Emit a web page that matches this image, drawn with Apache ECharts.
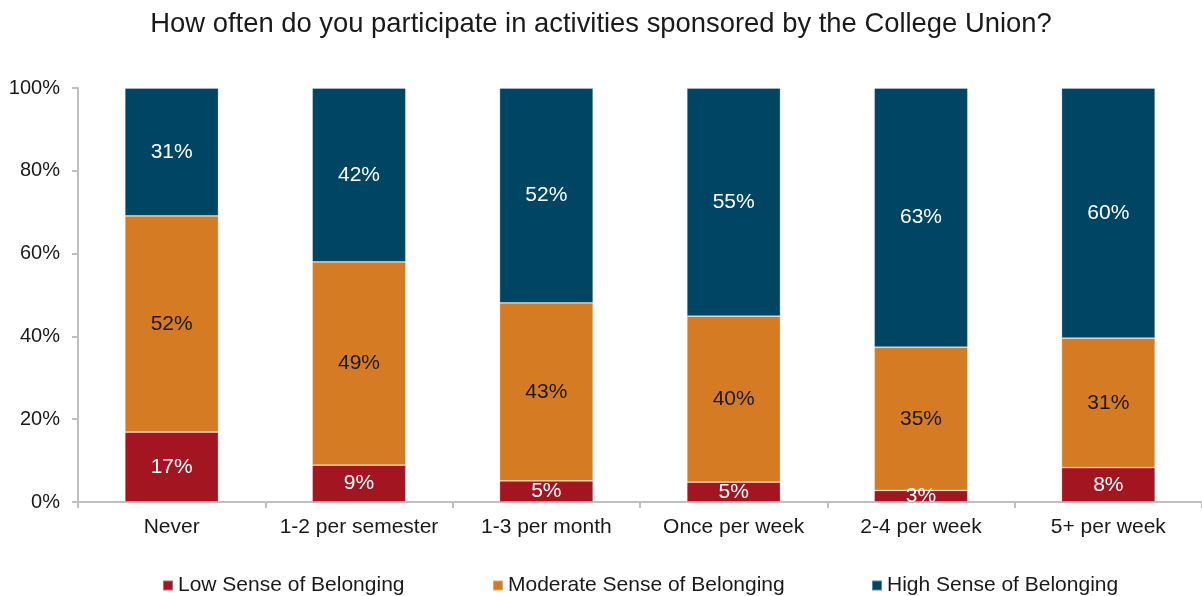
<!DOCTYPE html>
<html>
<head>
<meta charset="utf-8">
<script src="https://cdn.jsdelivr.net/npm/echarts@6/dist/echarts.min.js"></script>
<style>
html,body{margin:0;padding:0;background:#fff;}
#chart{width:1202px;height:596px;}
</style>
</head>
<body>
<div id="chart"></div>
<script>
var titleText = 'How often do you participate in activities sponsored by the College Union?';
var categories = ['Never', '1-2 per semester', '1-3 per month', 'Once per week', '2-4 per week', '5+ per week'];
var seriesNames = ['Low Sense of Belonging', 'Moderate Sense of Belonging', 'High Sense of Belonging'];
var lowValues = [16.9, 8.9, 5.1, 4.8, 2.8, 8.3];
var moderateValues = [52.2, 49.1, 43.0, 40.1, 34.6, 31.3];
var highValues = [30.9, 42.0, 51.9, 55.1, 62.6, 60.4];
var yTicks = [0, 20, 40, 60, 80, 100];

var colors = ['#A31621', '#D47B24', '#004563'];
var labelColors = ['#ffffff', '#1a1a1a', '#ffffff'];
var font = 'Liberation Sans, Arial, sans-serif';

function mkSeries(i, data) {
  return {
    name: seriesNames[i],
    type: 'bar',
    stack: 'total',
    barWidth: '50%',
    data: data,
    itemStyle: { color: colors[i], borderColor: 'rgba(255,255,255,0.35)', borderWidth: 0.8 },
    label: {
      show: true,
      position: 'inside',
      color: labelColors[i],
      fontFamily: font,
      fontSize: 21,
      formatter: function (p) { return Math.round(p.value) + '%'; }
    }
  };
}

var chart = echarts.init(document.getElementById('chart'));
chart.setOption({
  animation: false,
  title: {
    text: titleText,
    left: 'center',
    top: 6,
    textStyle: { fontFamily: font, fontSize: 27.4, fontWeight: 'normal', color: '#1a1a1a' }
  },
  legend: [0, 1, 2].map(function (i) {
    var lefts = [157, 487, 866];
    return {
      data: [seriesNames[i]],
      left: lefts[i],
      top: 570,
      itemWidth: 10,
      itemHeight: 10,
      icon: 'rect',
      itemGap: 0,
      textStyle: { fontFamily: font, fontSize: 21, color: '#1a1a1a' }
    };
  }),
  grid: { left: 78, top: 88, width: 1128, height: 414 },
  xAxis: {
    type: 'category',
    data: categories,
    axisLine: { show: true, lineStyle: { color: '#BFBFBF', width: 2 } },
    axisTick: { show: true, length: 6, lineStyle: { color: '#BFBFBF', width: 2 } },
    axisLabel: { interval: 0, fontFamily: font, fontSize: 21, color: '#1a1a1a', margin: 15 }
  },
  yAxis: {
    type: 'value',
    min: 0,
    max: 100,
    interval: 20,
    axisLine: { show: true, lineStyle: { color: '#BFBFBF', width: 2 } },
    axisTick: { show: true, length: 6, lineStyle: { color: '#BFBFBF', width: 2 } },
    splitLine: { show: false },
    axisLabel: {
      fontFamily: font, fontSize: 20, color: '#1a1a1a', margin: 18,
      formatter: function (v) { return yTicks.indexOf(v) >= 0 ? v + '%' : ''; }
    }
  },
  series: [mkSeries(0, lowValues), mkSeries(1, moderateValues), mkSeries(2, highValues)]
});
</script>
</body>
</html>
